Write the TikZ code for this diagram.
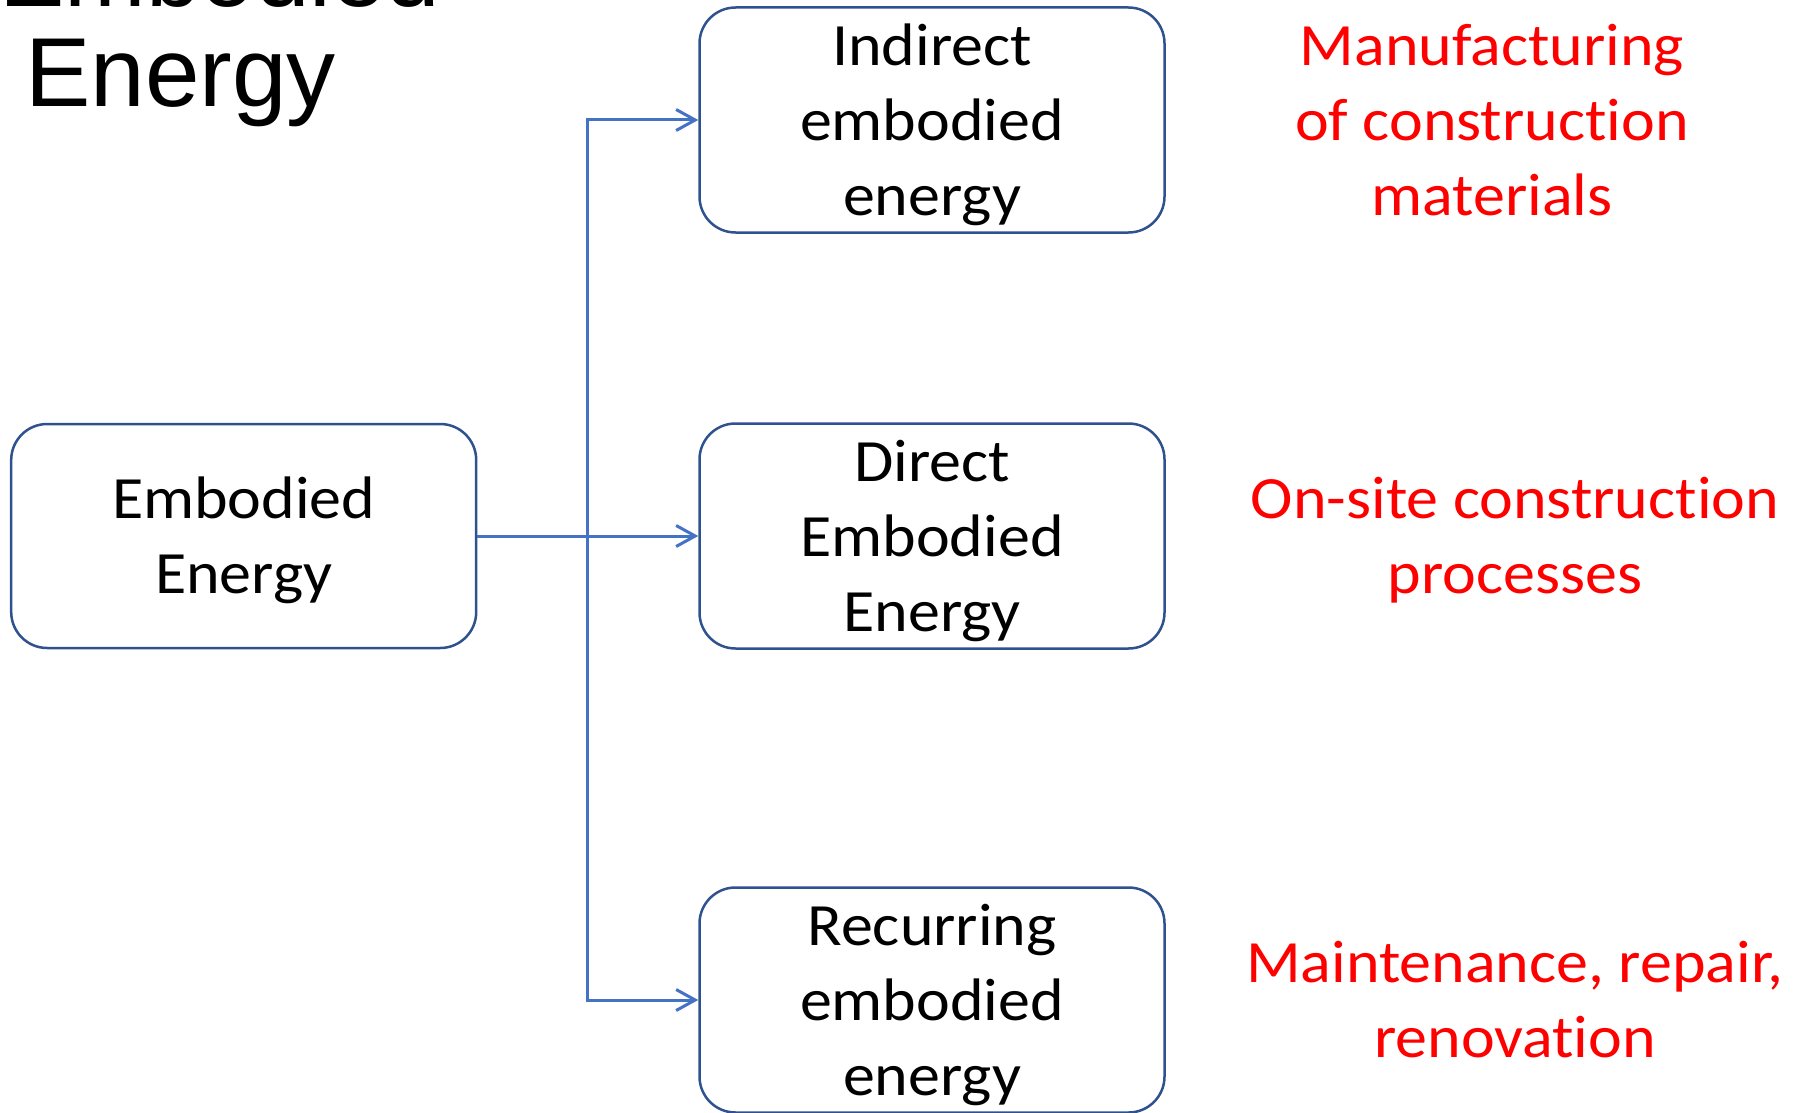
\documentclass[tikz,border=0pt]{standalone}
\usepackage{fontspec}
\setmainfont[FakeStretch=1.066, Ligatures=NoCommon]{Carlito}
\newfontfamily\titlefont{Liberation Sans}
\usetikzlibrary{arrows.meta}
\definecolor{boxline}{HTML}{2F528F}
\definecolor{linkblue}{HTML}{4472C4}
\definecolor{notered}{HTML}{FF0000}
% uniform line box: height 57.5pt, depth 17.5pt
\newcommand{\lstrut}{\rule[-17.5pt]{0pt}{75pt}}
\begin{document}
\begin{tikzpicture}[x=1pt,y=-1pt,
  stage/.style={draw=boxline, line width=2.5pt, rounded corners=36pt,
    minimum width=465pt, minimum height=224pt, inner sep=0pt,
    align=center, font=\fontsize{60}{75}\selectfont},
  note/.style={text=notered, inner sep=0pt, align=center,
    font=\fontsize{60}{75}\selectfont},
  heading/.style={inner sep=0pt, anchor=base west,
    font=\titlefont\fontsize{98}{100}\selectfont},
  link/.style={draw=linkblue, line width=3pt,
    -{Straight Barb[length=19pt,width=21pt]}}]
\useasboundingbox (0,0) rectangle (1798,1113);

% title
\node[heading] (titleA) at (-1,7) {Embodied};
\node[heading] (titleB) at (25,106.7) {Energy};

% boxes
\node[stage] (emb) at (243.7,536) {\lstrut Embodied\\\lstrut Energy};
\node[stage] (ind) at (932,120) {\lstrut Indirect\\\lstrut embodied\\\lstrut energy};
\node[stage] (dir) at (932,536) {\lstrut Direct\\\lstrut Embodied\\\lstrut Energy};
\node[stage] (rec) at (932,1000) {\lstrut Recurring\\\lstrut embodied\\\lstrut energy};

% notes
\node[note] (nInd) at (1492,120) {\lstrut Manufacturing\\\lstrut of construction\\\lstrut materials};
\node[note] (nDir) at (1515,536) {\lstrut On-site construction\\\lstrut processes};
\node[note] (nRec) at (1515,1000) {\lstrut Maintenance, repair,\\\lstrut renovation};

% connectors
\coordinate (split) at (587,536);
\draw[link] (emb.east) -- (split) |- (ind.west);
\draw[link] (emb.east) -- (split) -- (dir.west);
\draw[link] (emb.east) -- (split) |- (rec.west);
\end{tikzpicture}
\end{document}
